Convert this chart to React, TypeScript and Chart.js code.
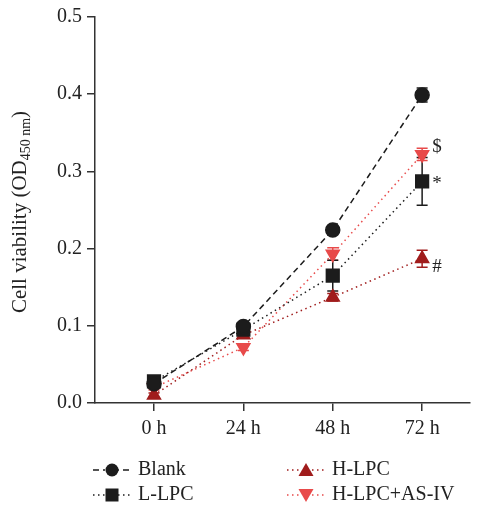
import React, { useEffect, useRef } from "react";
import { Chart, registerables } from "chart.js";

Chart.register(...registerables);

const timeLabels = ["0 h", "24 h", "48 h", "72 h"];
const timeIndex = [0, 1, 2, 3];
const yTicks = [0, 0.1, 0.2, 0.3, 0.4, 0.5];

const blank = [0.025, 0.099, 0.224, 0.399];
const blankErr = [0.004, 0.006, 0.004, 0.009];
const lLpc = [0.028, 0.095, 0.165, 0.287];
const lLpcErr = [0.003, 0.005, 0.02, 0.031];
const hLpc = [0.01, 0.088, 0.137, 0.187];
const hLpcErr = [0.003, 0.004, 0.005, 0.011];
const hLpcAs = [0.02, 0.072, 0.193, 0.322];
const hLpcAsErr = [0.003, 0.004, 0.008, 0.008];

const seriesNames = ["Blank", "L-LPC", "H-LPC", "H-LPC+AS-IV"];
const markers = ["*", "#", "$"];

const BLACK = "#1c1c1c";
const DARKRED = "#a01c1c";
const RED = "#e84a4a";
const FONT = "'Liberation Serif', 'DejaVu Serif', serif";

export default function App() {
  const ref = useRef<HTMLCanvasElement>(null);
  useEffect(() => {
    const ctx = ref.current!;
    const mk = (vals: number[]) => vals.map((v, i) => ({ x: timeIndex[i], y: v }));
    const errs = [blankErr, lLpcErr, hLpcErr, hLpcAsErr];
    const vals = [blank, lLpc, hLpc, hLpcAs];

    const errPlugin = {
      id: "errbars",
      beforeDatasetsDraw(chart: any) {
        const c = chart.ctx;
        const xs = chart.scales.x;
        const ys = chart.scales.y;
        for (let d = chart.data.datasets.length - 1; d >= 0; d--) {
          const ds = chart.data.datasets[d];
          c.save();
          c.strokeStyle = ds.borderColor;
          c.lineWidth = 1.5;
          vals[d].forEach((v, i) => {
            const px = xs.getPixelForValue(timeIndex[i]);
            const top = ys.getPixelForValue(v + errs[d][i]);
            const bot = ys.getPixelForValue(v - errs[d][i]);
            c.beginPath();
            c.moveTo(px, top);
            c.lineTo(px, bot);
            c.moveTo(px - 5.5, top);
            c.lineTo(px + 5.5, top);
            c.moveTo(px - 5.5, bot);
            c.lineTo(px + 5.5, bot);
            c.stroke();
          });
          c.restore();
        }
      },
      afterDraw(chart: any) {
        const c = chart.ctx;
        const xs = chart.scales.x;
        const ys = chart.scales.y;
        c.save();
        c.fillStyle = "#222";
        c.font = `19px ${FONT}`;
        c.textBaseline = "middle";
        c.textAlign = "left";
        const x3 = xs.getPixelForValue(3) + 10;
        c.fillText(markers[0], x3, ys.getPixelForValue(lLpc[3]) + 3);
        c.fillText(markers[1], x3, ys.getPixelForValue(hLpc[3]) + 8);
        c.fillText(markers[2], x3, ys.getPixelForValue(hLpcAs[3]) - 7);

        // y-axis title with subscript
        c.translate(20, 212);
        c.rotate(-Math.PI / 2);
        c.textBaseline = "middle";
        const main = "Cell viability (OD";
        const sub = "450 nm";
        const end = ")";
        c.font = `21px ${FONT}`;
        const w1 = c.measureText(main).width;
        const w3 = c.measureText(end).width;
        c.font = `14px ${FONT}`;
        const w2 = c.measureText(sub).width;
        const total = w1 + w2 + w3;
        let x = -total / 2;
        c.font = `21px ${FONT}`;
        c.fillText(main, x, 0);
        x += w1;
        c.font = `14px ${FONT}`;
        c.fillText(sub, x, 6);
        x += w2;
        c.font = `21px ${FONT}`;
        c.fillText(end, x, 0);
        c.restore();

        // legend
        const items = [
          { x: 93, y: 470, ds: 0 },
          { x: 93, y: 495, ds: 1 },
          { x: 287, y: 470, ds: 2 },
          { x: 287, y: 495, ds: 3 },
        ];
        items.forEach((it) => {
          const ds = chart.data.datasets[it.ds];
          c.save();
          c.strokeStyle = ds.borderColor;
          c.lineWidth = 1.5;
          c.setLineDash(ds.borderDash);
          c.beginPath();
          c.moveTo(it.x, it.y);
          c.lineTo(it.x + 37, it.y);
          c.stroke();
          c.setLineDash([]);
          c.fillStyle = "#fff";
          c.fillRect(it.x + 12, it.y - 7, 13, 14);
          c.fillStyle = ds.pointBackgroundColor;
          const cx = it.x + 19;
          const cy = it.y;
          c.beginPath();
          if (ds.pointStyle === "circle") {
            c.arc(cx, cy, 6.5, 0, Math.PI * 2);
          } else if (ds.pointStyle === "rect") {
            c.rect(cx - 6.5, cy - 6.5, 13, 13);
          } else if (ds.rotation === 180) {
            c.moveTo(cx - 7.5, cy - 6);
            c.lineTo(cx + 7.5, cy - 6);
            c.lineTo(cx, cy + 7);
          } else {
            c.moveTo(cx - 7.5, cy + 6);
            c.lineTo(cx + 7.5, cy + 6);
            c.lineTo(cx, cy - 7);
          }
          c.closePath();
          c.fill();
          c.fillStyle = "#222";
          c.font = `20px ${FONT}`;
          c.textBaseline = "middle";
          c.textAlign = "left";
          c.fillText(seriesNames[it.ds], it.x + 45, it.y);
          c.restore();
        });
      },
    };

    const chart = new Chart(ctx, {
      type: "line",
      data: {
        datasets: [
          {
            label: seriesNames[0],
            data: mk(blank),
            borderColor: BLACK,
            backgroundColor: BLACK,
            pointBackgroundColor: BLACK,
            pointBorderColor: BLACK,
            borderDash: [6, 4],
            borderWidth: 1.5,
            pointStyle: "circle",
            pointRadius: 7,
          },
          {
            label: seriesNames[1],
            data: mk(lLpc),
            borderColor: BLACK,
            backgroundColor: BLACK,
            pointBackgroundColor: BLACK,
            pointBorderColor: BLACK,
            borderDash: [1.5, 3.5],
            borderWidth: 1.5,
            pointStyle: "rect",
            pointRadius: 9,
          },
          {
            label: seriesNames[2],
            data: mk(hLpc),
            borderColor: DARKRED,
            backgroundColor: DARKRED,
            pointBackgroundColor: DARKRED,
            pointBorderColor: DARKRED,
            borderDash: [1.5, 3.5],
            borderWidth: 1.5,
            pointStyle: "triangle",
            pointRadius: 7.5,
          },
          {
            label: seriesNames[3],
            data: mk(hLpcAs),
            borderColor: RED,
            backgroundColor: RED,
            pointBackgroundColor: RED,
            pointBorderColor: RED,
            borderDash: [1.5, 3.5],
            borderWidth: 1.5,
            pointStyle: "triangle",
            rotation: 180,
            pointRadius: 7.5,
          },
        ] as any,
      },
      options: {
        animation: false,
        responsive: false,
        layout: { padding: { left: 0, right: 10, top: 15, bottom: 0 } },
        plugins: { legend: { display: false }, tooltip: { enabled: false } },
        scales: {
          x: {
            type: "linear",
            min: -0.66,
            max: 3.53,
            afterFit: (s: any) => {
              s.height = 108;
            },
            afterBuildTicks: (s: any) => {
              s.ticks = timeIndex.map((v) => ({ value: v }));
            },
            ticks: {
              callback: (v: any) => timeLabels[v as number] ?? "",
              color: "#222",
              font: { family: FONT, size: 20 },
              padding: 6,
              maxRotation: 0,
            },
            grid: { drawOnChartArea: false, drawTicks: true, tickLength: 8, color: "#333", lineWidth: 1.5 },
            border: { display: true, color: "#333", width: 1.5 },
          },
          y: {
            min: 0,
            max: 0.5,
            afterFit: (s: any) => {
              s.width = 95;
            },
            afterBuildTicks: (s: any) => {
              s.ticks = yTicks.map((v) => ({ value: v }));
            },
            ticks: {
              callback: (v: any) => Number(v).toFixed(1),
              color: "#222",
              font: { family: FONT, size: 20 },
              padding: 5,
            },
            grid: { drawOnChartArea: false, drawTicks: true, tickLength: 8, color: "#333", lineWidth: 1.5 },
            border: { display: true, color: "#333", width: 1.5 },
          },
        },
      },
      plugins: [errPlugin],
    });
    return () => chart.destroy();
  }, []);
  return (
    <div style={{ position: "fixed", left: 0, top: 0, width: 480, height: 511, background: "#fff" }}>
      <canvas ref={ref} width={480} height={511} />
    </div>
  );
}
